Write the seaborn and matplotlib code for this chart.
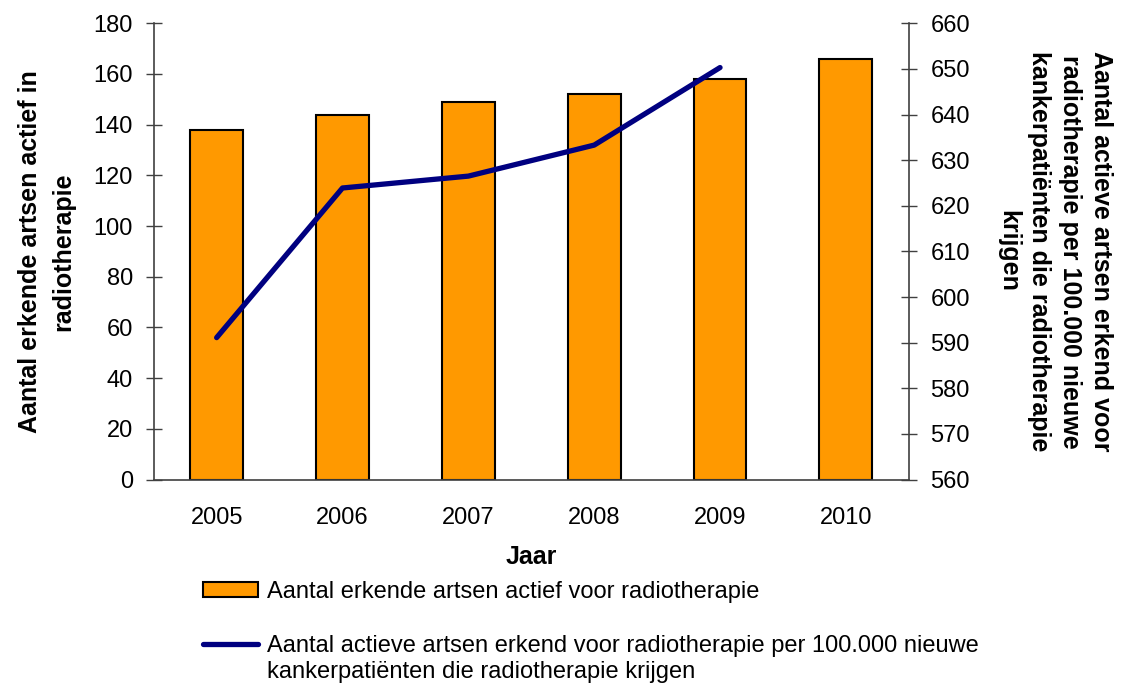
import matplotlib
matplotlib.use("Agg")
import numpy as np
import seaborn as sns
import matplotlib.pyplot as plt
from matplotlib.patches import Patch
from matplotlib.lines import Line2D

# Data
years = ["2005", "2006", "2007", "2008", "2009", "2010"]
artsen_actief = [138, 144, 149, 152, 158, 166]
line_years = ["2005", "2006", "2007", "2008", "2009"]
artsen_per_100000 = [591.1, 623.9, 626.5, 633.3, 650.3]

bar_label = "Aantal erkende artsen actief voor radiotherapie"
line_label_1 = "Aantal actieve artsen erkend voor radiotherapie per 100.000 nieuwe"
line_label_2 = "kankerpatiënten die radiotherapie krijgen"

BAR_COLOR = "#FF9900"
LINE_COLOR = "#000080"
AXIS_COLOR = "#404040"

sns.set_style("white")
plt.rcParams["font.family"] = ["Liberation Sans", "DejaVu Sans"]
plt.rcParams.update({"text.color": "black", "axes.labelcolor": "black",
                     "xtick.color": "black", "ytick.color": "black"})

fig = plt.figure(figsize=(11.22, 6.85), dpi=100)
ax = fig.add_axes([0.137, 0.300, 0.673, 0.666])

sns.barplot(x=years, y=artsen_actief, color=BAR_COLOR, saturation=1,
            edgecolor="black", linewidth=1.5, width=0.42, ax=ax)

ax2 = ax.twinx()
positions = [years.index(y) for y in line_years]
sns.lineplot(x=positions, y=artsen_per_100000, color=LINE_COLOR, linewidth=3.8,
             solid_capstyle="round", legend=False, ax=ax2)

# Axes limits and ticks
ax.set_xlim(-0.5, 5.5)
ax.set_ylim(0, 180)
ax.set_yticks(np.arange(0, 181, 20))
ax2.set_ylim(560, 660)
ax2.set_yticks(np.arange(560, 661, 10))

ax.set_xticks(np.arange(-0.5, 6, 1))
ax.set_xticklabels([])
ax.set_xticks(np.arange(len(years)), minor=True)
ax.set_xticklabels(years, minor=True)
ax.tick_params(axis="x", which="major", direction="inout", length=11, width=1, color=AXIS_COLOR)
ax.tick_params(axis="x", which="minor", length=0, pad=20, labelsize=17)
ax.tick_params(axis="y", direction="inout", length=11, width=1, color=AXIS_COLOR, pad=9.5, labelsize=17)
ax2.tick_params(axis="y", direction="inout", length=11, width=1, color=AXIS_COLOR, pad=10, labelsize=17)

for a in (ax, ax2):
    a.spines["top"].set_visible(False)
    for s in ("left", "right", "bottom"):
        a.spines[s].set_color(AXIS_COLOR)
        a.spines[s].set_linewidth(1.2)
ax.spines["right"].set_visible(False)
ax2.spines["left"].set_visible(False)
ax2.spines["bottom"].set_visible(False)

ax.set_xlabel("Jaar", fontsize=18, fontweight="bold", labelpad=11)
ax.set_ylabel("Aantal erkende artsen actief in\nradiotherapie", fontsize=18,
              fontweight="bold", labelpad=13, linespacing=1.5)
ax2.set_ylabel("Aantal actieve artsen erkend voor\nradiotherapie per 100.000 nieuwe\n"
               "kankerpatiënten die radiotherapie\nkrijgen",
               rotation=-90, va="bottom", fontsize=18, fontweight="bold",
               labelpad=19, linespacing=1.36)

# Legend below the plot
handles = [Patch(facecolor=BAR_COLOR, edgecolor="black", linewidth=1.5),
           Line2D([0], [0], color=LINE_COLOR, linewidth=3.8, solid_capstyle="round")]
leg = fig.legend(handles, [bar_label, line_label_1], loc="upper left",
                 bbox_to_anchor=(191 / 1122, 1 - 569 / 685), frameon=False,
                 fontsize=17, handlelength=2.35, handleheight=0.6,
                 handletextpad=0.38, labelspacing=1.37, borderpad=0)

fig.canvas.draw()
renderer = fig.canvas.get_renderer()
bb = leg.get_texts()[1].get_window_extent(renderer)
inv = fig.transFigure.inverted()
x0, y0 = inv.transform((bb.x0, bb.y0))
fig.text(x0, y0 - 4 / 685, line_label_2, fontsize=17, ha="left", va="top")

fig.savefig("out.png", dpi=100)
